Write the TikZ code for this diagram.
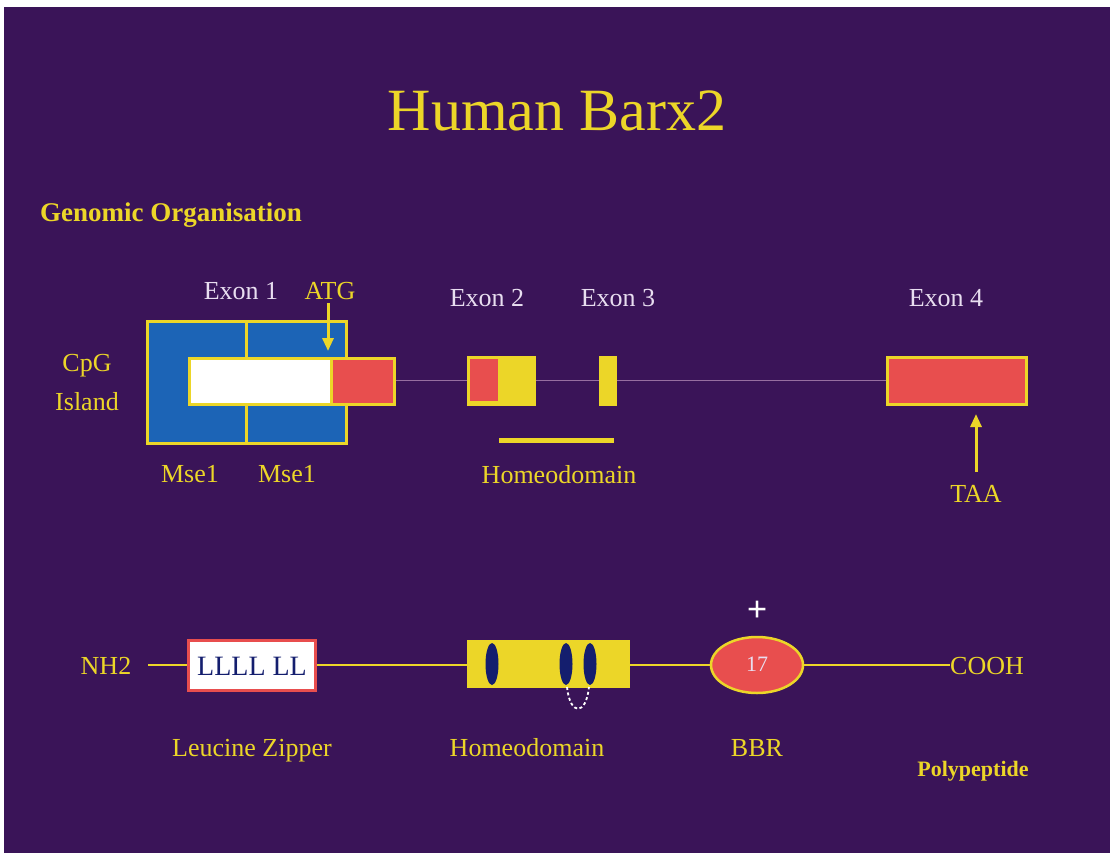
\documentclass[tikz,border=0pt]{standalone}
\usepackage{fontspec}
\setmainfont{Liberation Serif}
\usetikzlibrary{arrows.meta,shapes.geometric}
\definecolor{bgpurple}{RGB}{58,20,88}
\definecolor{gold}{RGB}{236,214,40}
\definecolor{exonred}{RGB}{232,78,78}
\definecolor{cpgblue}{RGB}{28,100,182}
\definecolor{pale}{RGB}{232,222,240}
\definecolor{navy}{RGB}{20,30,110}
\definecolor{intron}{RGB}{150,110,160}
\tikzset{
  lbl/.style={font=\fontsize{26}{28}\selectfont, inner sep=0pt},
  ylbl/.style={lbl, text=gold},
  wlbl/.style={lbl, text=pale},
  exonbox/.style={draw=gold, line width=2.5pt, inner sep=0pt},
  backbone/.style={gold, line width=2.5pt},
  arr/.style={gold, line width=3pt, -{Triangle[width=11pt,length=13pt]}}
}
\begin{document}
\begin{tikzpicture}[x=1pt,y=-1pt]
\useasboundingbox (0,0) rectangle (1113,857);
\fill[white] (0,0) rectangle (1113,857);
\fill[bgpurple] (4,7) rectangle (1110,853);

% title and section heading
\node[text=gold, font=\fontsize{60}{64}\selectfont, inner sep=0pt, anchor=base] (title) at (557,130) {Human Barx2};
\node[text=gold, font=\bfseries\fontsize{27}{29}\selectfont, inner sep=0pt, anchor=base west] (genomic) at (40,221) {Genomic Organisation};

% intron line
\coordinate (intronA) at (393,380);
\coordinate (intronB) at (886,380);
\draw[intron, line width=0.8pt] (intronA) -- (intronB);

% CpG island with Mse1 sites
\node[exonbox, fill=cpgblue, minimum width=199pt, minimum height=122pt, anchor=north west] (cpg) at (146,320) {};
\coordinate (mseTop) at (246,320);
\coordinate (mseBot) at (246,442);
\draw[gold, line width=3pt] (mseTop) -- (mseBot);

% exon 1: untranslated (white) and coding (red) parts
\node[exonbox, fill=white, minimum width=142pt, minimum height=46pt, anchor=north west] (utr) at (188,357) {};
\node[exonbox, fill=exonred, minimum width=63pt, minimum height=46pt, anchor=north west] (cds1) at (330,357) {};

% exon 2, exon 3, exon 4
\node[exonbox, fill=gold, minimum width=66pt, minimum height=47pt, anchor=north west] (ex2) at (467,356) {};
\fill[exonred] (469.5,358.5) rectangle (498,400.5);
\node[exonbox, fill=gold, minimum width=15pt, minimum height=47pt, anchor=north west] (ex3) at (599,356) {};
\node[exonbox, fill=exonred, minimum width=139pt, minimum height=47pt, anchor=north west] (ex4) at (886,356) {};

% homeodomain span
\coordinate (hdA) at (499,440);
\coordinate (hdB) at (614,440);
\draw[gold, line width=5pt] (hdA) -- (hdB);

% labels of the gene
\node[wlbl, anchor=base] (e1) at (241,299) {Exon 1};
\node[ylbl, anchor=base] (atg) at (330,299) {ATG};
\node[wlbl, anchor=base] (e2) at (487,306) {Exon 2};
\node[wlbl, anchor=base] (e3) at (618,306) {Exon 3};
\node[wlbl, anchor=base] (e4) at (946,306) {Exon 4};
\node[ylbl, anchor=base] (cpg1) at (87,371) {CpG};
\node[ylbl, anchor=base] (cpg2) at (87,410) {Island};
\node[ylbl, anchor=base] (mse1) at (190,482) {Mse1};
\node[ylbl, anchor=base] (mse2) at (287,482) {Mse1};
\node[ylbl, anchor=base] (hdlbl) at (559,483) {Homeodomain};
\node[ylbl, anchor=base] (taa) at (976,502) {TAA};

% start and stop codon arrows
\coordinate (atgTip) at (328,351);
\draw[arr] (328,303) -- (atgTip);
\coordinate (taaTip) at (976,414);
\draw[arr] (976,472) -- (taaTip);

% polypeptide backbone height
\coordinate (row) at (0,665);

\node[ylbl, anchor=base] (nh2) at (106,674) {NH2};
\node[draw=exonred, line width=3pt, fill=white, minimum width=127pt, minimum height=50pt, inner sep=0pt] (lz) at (251.5,665) {};
\node[text=navy, font=\fontsize{28}{30}\selectfont, inner sep=0pt, anchor=base] (lztext) at (252,675) {LLLL LL};
\node[fill=gold, minimum width=163pt, minimum height=48pt, inner sep=0pt] (hd) at (548.5,664) {};
\node[ellipse, draw=gold, line width=2.5pt, fill=exonred, minimum width=92pt, minimum height=56pt, inner sep=0pt] (bbr) at (757,665) {};
\node[text=pale, font=\fontsize{22}{24}\selectfont, inner sep=0pt] (seventeen) at (757,664) {17};
\node[ylbl, anchor=base west] (cooh) at (950,674) {COOH};

\coordinate (nStart) at (148,665);
\draw[backbone] (nStart) -- (lz.west |- row);
\draw[backbone] (lz.east |- row) -- (hd.west |- row);
\draw[backbone] (hd.east |- row) -- (bbr.west |- row);
\draw[backbone] (bbr.east |- row) -- (cooh.west |- row);

% helices of the homeodomain
\fill[navy] (492,664) ellipse (6.5pt and 21pt);
\fill[navy] (566,664) ellipse (6.5pt and 21pt);
\fill[navy] (590,664) ellipse (6.5pt and 21pt);
\draw[white, line width=1.8pt, dash pattern=on 3pt off 2.5pt] (567,687) .. controls (570,716) and (586,716) .. (589,687);

% positive charge of the basic region
\node[text=white, font=\bfseries\fontsize{36}{38}\selectfont, inner sep=0pt] (plus) at (757,611) {+};

% protein labels
\node[ylbl, anchor=base] (lzlbl) at (252,756) {Leucine Zipper};
\node[ylbl, anchor=base] (hdlbl2) at (527,756) {Homeodomain};
\node[ylbl, anchor=base] (bbrlbl) at (757,756) {BBR};
\node[text=gold, font=\bfseries\fontsize{22}{24}\selectfont, inner sep=0pt, anchor=base] (poly) at (973,776) {Polypeptide};
\end{tikzpicture}
\end{document}
